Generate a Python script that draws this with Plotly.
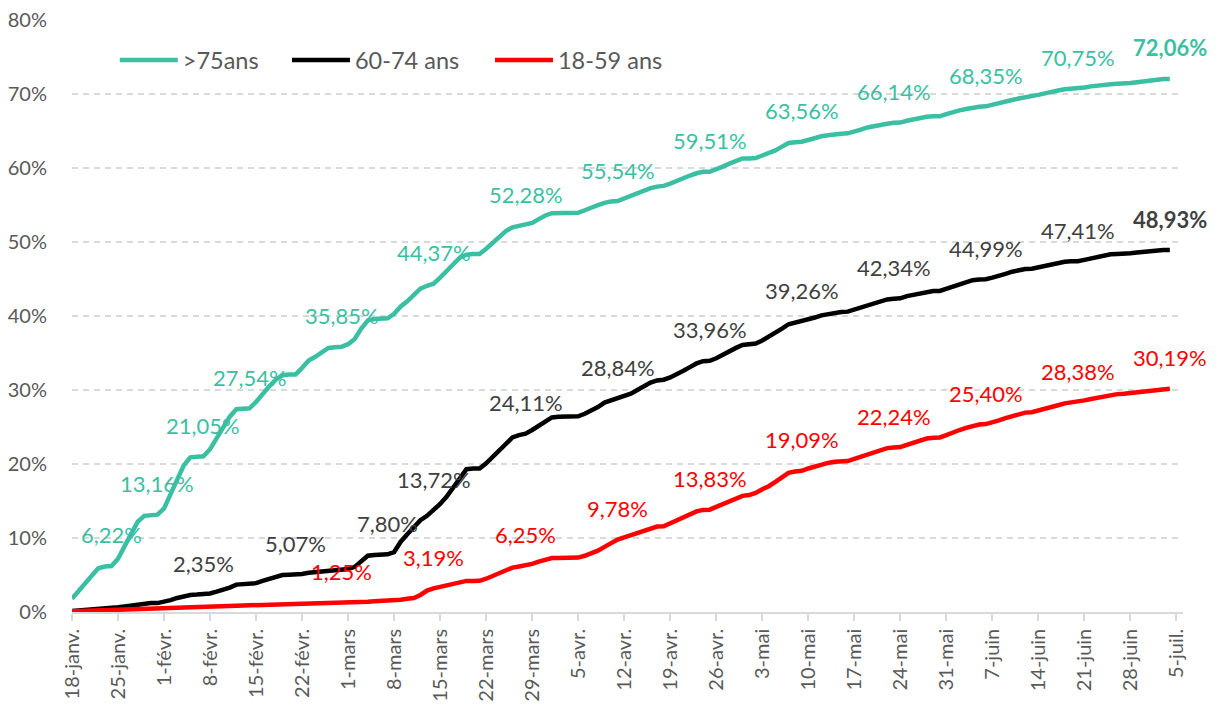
import pandas as pd
import plotly.graph_objects as go

# ---- data (daily cumulative vaccination rate, %) ----
dates = pd.date_range("2021-01-18", "2021-07-04", freq="D")

over75 = [
    1.8, 2.9, 3.9, 4.9, 5.9, 6.15, 6.22,
    7.2, 8.9, 10.6, 12.2, 13.0, 13.1, 13.16,
    14.0, 15.8, 17.9, 19.8, 20.9, 21.0, 21.05,
    22.0, 23.5, 25.0, 26.4, 27.4, 27.5, 27.54,
    28.4, 29.5, 30.5, 31.4, 32.0, 32.1, 32.1,
    33.0, 34.0, 34.5, 35.1, 35.7, 35.8, 35.85,
    36.2, 36.9, 38.3, 39.4, 39.6, 39.6, 39.7,
    40.3, 41.3, 42.0, 42.9, 43.7, 44.1, 44.37,
    45.2, 46.2, 47.0, 47.9, 48.3, 48.4, 48.4,
    49.1, 49.9, 50.7, 51.5, 52.0, 52.2, 52.28,
    52.6, 53.1, 53.6, 53.9, 53.9, 53.9, 53.9,
    53.95, 54.3, 54.7, 55.0, 55.3, 55.5, 55.54,
    55.9, 56.2, 56.6, 57.0, 57.3, 57.5, 57.6,
    57.9, 58.3, 58.6, 59.0, 59.3, 59.5, 59.51,
    59.8, 60.2, 60.6, 61.0, 61.3, 61.3, 61.35,
    61.7, 62.0, 62.4, 62.9, 63.4, 63.5, 63.56,
    63.8, 64.1, 64.3, 64.45, 64.6, 64.65, 64.7,
    64.9, 65.2, 65.5, 65.7, 65.9, 66.0, 66.14,
    66.15, 66.4, 66.6, 66.8, 66.95, 67.0, 67.0,
    67.3, 67.6, 67.8, 68.0, 68.2, 68.3, 68.35,
    68.6, 68.8, 69.0, 69.2, 69.4, 69.55, 69.6,
    69.9, 70.1, 70.35, 70.5, 70.65, 70.7, 70.75,
    70.9, 71.05, 71.2, 71.3, 71.35, 71.4, 71.4,
    71.5, 71.6, 71.75, 71.9, 72.0, 72.05, 72.06,
]

age60_74 = [
    0.15, 0.2, 0.3, 0.35, 0.45, 0.5, 0.55,
    0.65, 0.75, 0.9, 1.05, 1.15, 1.2, 1.2,
    1.35, 1.6, 1.9, 2.15, 2.3, 2.35, 2.35,
    2.5, 2.75, 3.0, 3.3, 3.7, 3.8, 3.8,
    3.9, 4.2, 4.45, 4.7, 5.0, 5.05, 5.07,
    5.15, 5.3, 5.4, 5.5, 5.6, 5.65, 5.7,
    5.8, 6.1, 6.9, 7.6, 7.7, 7.75, 7.8,
    8.1, 9.5, 10.5, 11.5, 12.4, 13.0, 13.72,
    14.6, 15.6, 16.8, 18.2, 19.3, 19.4, 19.4,
    20.1, 21.0, 22.0, 22.9, 23.6, 23.9, 24.11,
    24.6, 25.2, 25.8, 26.3, 26.4, 26.4, 26.4,
    26.45, 26.8, 27.2, 27.7, 28.3, 28.6, 28.84,
    29.1, 29.5, 30.0, 30.5, 31.0, 31.3, 31.4,
    31.7, 32.1, 32.6, 33.1, 33.6, 33.9, 33.96,
    34.3, 34.8, 35.3, 35.7, 36.1, 36.25, 36.3,
    36.7, 37.2, 37.7, 38.3, 38.9, 39.1, 39.26,
    39.5, 39.8, 40.1, 40.3, 40.5, 40.55, 40.6,
    40.9, 41.2, 41.5, 41.8, 42.1, 42.25, 42.34,
    42.4, 42.7, 42.9, 43.1, 43.3, 43.4, 43.4,
    43.7, 44.0, 44.3, 44.6, 44.85, 44.95, 44.99,
    45.2, 45.4, 45.7, 46.0, 46.25, 46.35, 46.4,
    46.6, 46.8, 47.0, 47.2, 47.35, 47.4, 47.41,
    47.6, 47.8, 48.0, 48.2, 48.35, 48.4, 48.4,
    48.5, 48.6, 48.7, 48.8, 48.88, 48.92, 48.93,
]

age18_59 = [
    0.1, 0.12, 0.15, 0.18, 0.2, 0.22, 0.23,
    0.26, 0.3, 0.34, 0.38, 0.42, 0.44, 0.45,
    0.48, 0.52, 0.56, 0.6, 0.65, 0.68, 0.7,
    0.72, 0.75, 0.78, 0.82, 0.86, 0.88, 0.9,
    0.92, 0.95, 0.97, 1.0, 1.03, 1.04, 1.05,
    1.08, 1.11, 1.14, 1.17, 1.2, 1.23, 1.25,
    1.28, 1.32, 1.36, 1.4, 1.45, 1.48, 1.5,
    1.55, 1.65, 1.8, 1.9, 2.3, 2.9, 3.19,
    3.4, 3.6, 3.85, 4.05, 4.2, 4.2, 4.22,
    4.5, 4.9, 5.3, 5.7, 6.0, 6.15, 6.25,
    6.5, 6.8, 7.1, 7.3, 7.3, 7.3, 7.3,
    7.35, 7.6, 7.9, 8.3, 8.8, 9.3, 9.78,
    10.1, 10.4, 10.7, 11.0, 11.4, 11.55, 11.6,
    12.0, 12.4, 12.8, 13.2, 13.6, 13.8, 13.83,
    14.2, 14.6, 15.0, 15.4, 15.7, 15.8, 16.1,
    16.6, 17.0, 17.6, 18.2, 18.8, 19.0, 19.09,
    19.4, 19.7, 19.95, 20.15, 20.3, 20.35, 20.4,
    20.7, 21.0, 21.3, 21.6, 21.95, 22.15, 22.24,
    22.3, 22.6, 22.9, 23.2, 23.45, 23.55, 23.6,
    23.9, 24.3, 24.6, 24.9, 25.2, 25.35, 25.4,
    25.6, 25.9, 26.2, 26.5, 26.8, 26.95, 27.0,
    27.2, 27.4, 27.7, 27.95, 28.2, 28.33, 28.38,
    28.6, 28.8, 29.0, 29.2, 29.35, 29.45, 29.5,
    29.6, 29.7, 29.85, 29.95, 30.1, 30.15, 30.19,
]

# dates carrying a data label
labels_over75 = ["2021-01-24", "2021-01-31", "2021-02-07", "2021-02-14", "2021-02-28",
                 "2021-03-14", "2021-03-28", "2021-04-11", "2021-04-25", "2021-05-09",
                 "2021-05-23", "2021-06-06", "2021-06-20", "2021-07-04"]
labels_60_74 = ["2021-02-07", "2021-02-21", "2021-03-07", "2021-03-14", "2021-03-28",
                "2021-04-11", "2021-04-25", "2021-05-09", "2021-05-23", "2021-06-06",
                "2021-06-20", "2021-07-04"]
labels_18_59 = ["2021-02-28", "2021-03-14", "2021-03-28", "2021-04-11", "2021-04-25",
                "2021-05-09", "2021-05-23", "2021-06-06", "2021-06-20", "2021-07-04"]

tick_dates = pd.date_range("2021-01-18", "2021-07-05", freq="7D")
tick_labels = ["18-janv.", "25-janv.", "1-févr.", "8-févr.", "15-févr.", "22-févr.",
               "1-mars", "8-mars", "15-mars", "22-mars", "29-mars", "5-avr.",
               "12-avr.", "19-avr.", "26-avr.", "3-mai", "10-mai", "17-mai",
               "24-mai", "31-mai", "7-juin", "14-juin", "21-juin", "28-juin", "5-juil."]
y_ticks = [0, 10, 20, 30, 40, 50, 60, 70, 80]
y_tick_labels = ["0%", "10%", "20%", "30%", "40%", "50%", "60%", "70%", "80%"]

series = [
    (">75ans", over75, labels_over75, "#3BBFA3", "#3BBFA3", True, "legend", 0.0385),
    ("60-74 ans", age60_74, labels_60_74, "#000000", "#404040", True, "legend2", 0.1935),
    ("18-59 ans", age18_59, labels_18_59, "#FF0000", "#FF0000", False, "legend3", 0.3762),
]

FONT = "Lato"
GREY = "#595959"

fig = go.Figure()
annotations = []
layout_legends = {}
for name, vals, lab_dates, lcol, tcol, bold_last, leg, lx in series:
    fig.add_trace(go.Scatter(
        x=dates, y=vals, mode="lines", name=name,
        line=dict(color=lcol, width=4.5),
        legend=leg, hoverinfo="x+y",
    ))
    s = pd.Series(vals, index=dates)
    for i, d in enumerate(lab_dates):
        v = float(s.loc[pd.Timestamp(d)])
        txt = f"{v:.2f}%".replace(".", ",")
        is_bold = bold_last and i == len(lab_dates) - 1
        if is_bold:
            txt = f"<b>{txt}</b>"
        annotations.append(dict(
            x=d, y=v, xref="x", yref="y", text=txt, showarrow=False,
            yshift=31, font=dict(family=FONT, size=22, color=tcol),
        ))
    layout_legends[leg] = dict(
        x=lx, y=0.932, xanchor="left", yanchor="middle",
        orientation="h", bgcolor="rgba(0,0,0,0)", borderwidth=0,
        font=dict(family=FONT, size=23.5, color=GREY), itemwidth=58,
    )

# the page adds an 8px body margin, so the figure is 8px smaller than the window
fig.update_layout(
    width=1212, height=697,
    margin=dict(l=64, r=37, t=12, b=93, autoexpand=False),
    paper_bgcolor="white", plot_bgcolor="white",
    showlegend=True,
    annotations=annotations,
    font=dict(family=FONT, color=GREY),
    **layout_legends,
)

fig.update_xaxes(
    type="date", range=["2021-01-18", "2021-07-06"], automargin=False,
    tickvals=list(tick_dates), ticktext=tick_labels, tickangle=-90,
    tickfont=dict(family=FONT, size=20, color=GREY),
    showgrid=False, showline=True, linecolor="#D9D9D9", linewidth=1.5,
    ticks="outside", ticklen=7, tickcolor="#D9D9D9", tickwidth=1.5,
    zeroline=False, ticklabeloverflow="allow",
)
fig.update_yaxes(
    range=[0, 80.02], automargin=False,
    tickmode="array", tickvals=y_ticks, ticktext=y_tick_labels,
    tickfont=dict(family=FONT, size=20, color=GREY),
    showgrid=True, gridcolor="#D9D9D9", gridwidth=1.5, griddash="6px,5px",
    zeroline=False, showline=False, ticks="", ticklabelstandoff=24,
    ticklabeloverflow="allow",
)

fig.write_html("out.html")
